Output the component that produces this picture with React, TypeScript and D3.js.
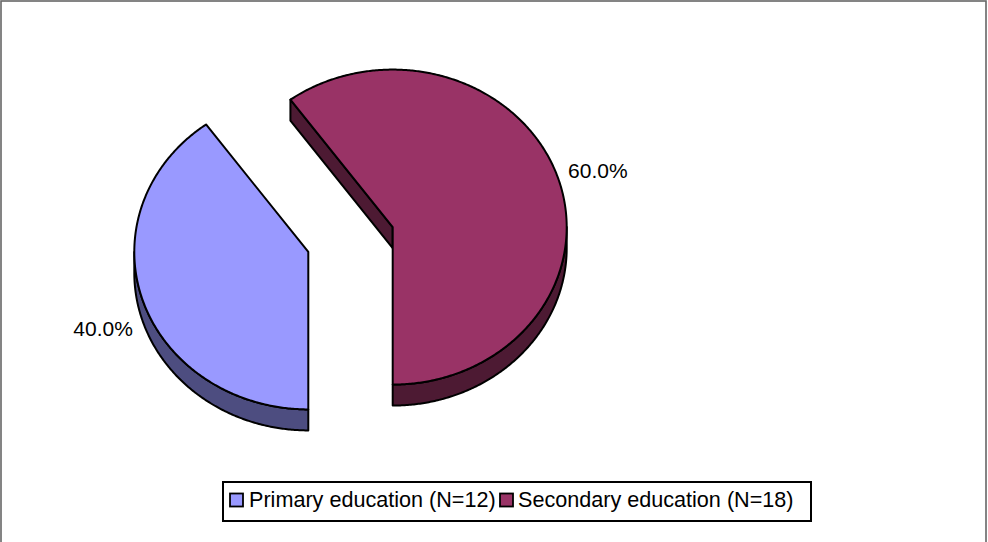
import React from "react";
import * as d3 from "d3";

const categories = ["Primary education (N=12)", "Secondary education (N=18)"];
const counts = [12, 18];
const topColors = ["#9999FF", "#993366"];
const sideColors = ["#4D4D80", "#4D1A33"];

const W = 988;
const H = 542;

export default function App() {
  const cx0 = 350.5;
  const cy0 = 239.5;
  const rx = 174;
  const ry = 157.5;
  const depth = 21;
  const explode = 0.255;

  const total = d3.sum(counts);
  const fmt = d3.format(".1%");
  const pie = d3
    .pie<number>()
    .sort(null)
    .startAngle(Math.PI)
    .endAngle(3 * Math.PI);
  const arcs = pie(counts);

  const pt = (cx: number, cy: number, a: number, k = 1): [number, number] => [
    cx + rx * k * Math.sin(a),
    cy - ry * k * Math.cos(a),
  ];

  const line = d3.line<[number, number]>();

  const sample = (a0: number, a1: number) => {
    const n = Math.max(2, Math.ceil(Math.abs(a1 - a0) / (Math.PI / 360)));
    return d3.range(n + 1).map((i) => a0 + ((a1 - a0) * i) / n);
  };

  const slices = arcs.map((d, i) => {
    const mid = (d.startAngle + d.endAngle) / 2;
    const cx = cx0 + rx * explode * Math.sin(mid);
    const cy = cy0 - ry * explode * Math.cos(mid);
    const a0 = d.startAngle;
    const a1 = d.endAngle;

    const topPts: [number, number][] = [[cx, cy], ...sample(a0, a1).map((a) => pt(cx, cy, a))];
    const topPath = line(topPts) + "Z";

    const walls: string[] = [];
    for (let n = 0; n < 3; n++) {
      const lo = Math.PI / 2 + 2 * Math.PI * n;
      const hi = (3 * Math.PI) / 2 + 2 * Math.PI * n;
      const s = Math.max(lo, a0);
      const e = Math.min(hi, a1);
      if (e > s) {
        const angs = sample(s, e);
        const upper = angs.map((a) => pt(cx, cy, a));
        const lower = angs
          .slice()
          .reverse()
          .map((a) => {
            const p = pt(cx, cy, a);
            return [p[0], p[1] + depth] as [number, number];
          });
        walls.push(line([...upper, ...lower]) + "Z");
      }
    }

    const faces: string[] = [];
    const face = (a: number) => {
      const p = pt(cx, cy, a);
      return (
        line([
          [cx, cy],
          p,
          [p[0], p[1] + depth],
          [cx, cy + depth],
        ]) + "Z"
      );
    };
    if (Math.sin(a0) < -1e-6) faces.push(face(a0));
    if (Math.sin(a1) > 1e-6) faces.push(face(a1));

    const k = 1.06;
    const lp = pt(cx, cy, mid, k);
    const front = Math.cos(mid) < 0;
    const lx = lp[0];
    const ly = lp[1] + (front ? depth + 4 : -5);
    const anchor = Math.sin(mid) >= 0 ? "start" : "end";

    return { i, topPath, walls, faces, lx, ly, anchor, label: fmt(d.data / total) };
  });

  const font = "'Liberation Sans', Arial, sans-serif";
  const legendX = [230, 500];
  const legendTextX = [249, 518];
  const sw = 2;

  return (
    <div style={{ position: "absolute", left: 0, top: 0 }}>
      <svg width={W} height={H} style={{ display: "block" }}>
        <rect x={0} y={0} width={W} height={H} fill="#ffffff" />
        <rect x={1} y={1} width={985} height={H + 4} fill="none" stroke="#666666" strokeWidth={1.6} />
        {slices.map((s) => (
          <g key={s.i}>
            {s.faces.map((p, j) => (
              <path key={"f" + j} d={p} fill={sideColors[s.i]} stroke="#000" strokeWidth={sw} strokeLinejoin="round" />
            ))}
            {s.walls.map((p, j) => (
              <path key={"w" + j} d={p} fill={sideColors[s.i]} stroke="#000" strokeWidth={sw} strokeLinejoin="round" />
            ))}
            <path d={s.topPath} fill={topColors[s.i]} stroke="#000" strokeWidth={sw} strokeLinejoin="round" />
          </g>
        ))}
        {slices.map((s) => (
          <text
            key={"l" + s.i}
            x={s.lx}
            y={s.ly}
            textAnchor={s.anchor}
            dominantBaseline="central"
            fontFamily={font}
            fontSize={21}
            fill="#000"
          >
            {s.label}
          </text>
        ))}
        <g>
          <rect x={223} y={482} width={588} height={39} fill="#fff" stroke="#000" strokeWidth={2} />
          {categories.map((c, i) => (
            <g key={"lg" + i}>
              <rect x={legendX[i]} y={493.5} width={13} height={13} fill={topColors[i]} stroke="#000" strokeWidth={1.8} />
              <text x={legendTextX[i]} y={507} fontFamily={font} fontSize={21.6} fill="#000">
                {c}
              </text>
            </g>
          ))}
        </g>
      </svg>
    </div>
  );
}
